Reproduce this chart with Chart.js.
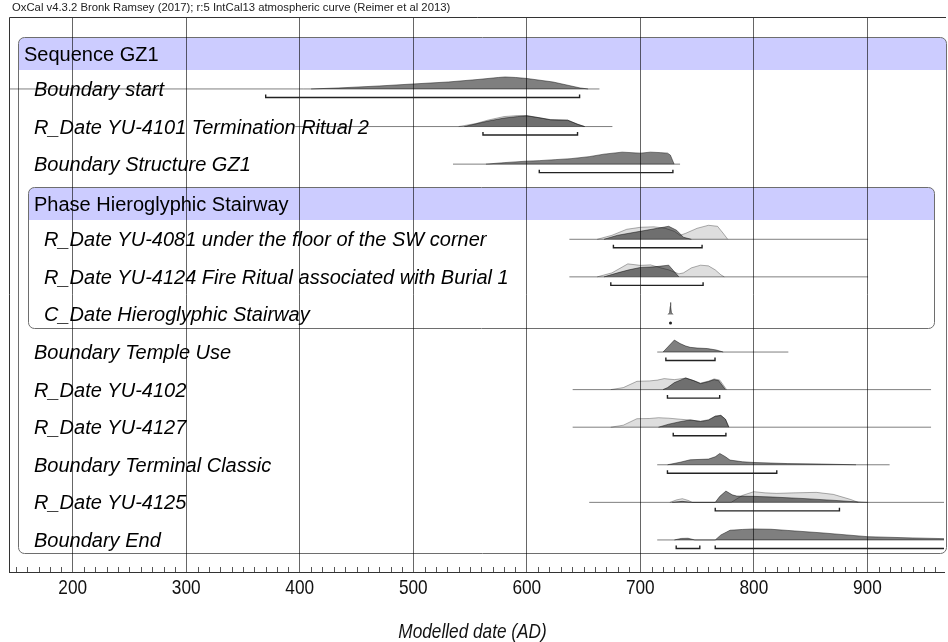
<!DOCTYPE html>
<html>
<head>
<meta charset="utf-8">
<script src="https://cdn.jsdelivr.net/npm/chart.js@4.4.1/dist/chart.umd.min.js"></script>
<style>
  html, body { margin: 0; padding: 0; background: #fff; }
  canvas { display: block; }
</style>
</head>
<body>
<canvas id="oxcal" width="948" height="642"></canvas>
<script>
// row names, top to bottom (row index = position on the y scale)
const rowNames = [
  'Sequence GZ1',
  'Boundary start',
  'R_Date YU-4101 Termination Ritual 2',
  'Boundary Structure GZ1',
  'Phase Hieroglyphic Stairway',
  'R_Date YU-4081 under the floor of the SW corner',
  'R_Date YU-4124 Fire Ritual associated with Burial 1',
  'C_Date Hieroglyphic Stairway',
  'Boundary Temple Use',
  'R_Date YU-4102',
  'R_Date YU-4127',
  'Boundary Terminal Classic',
  'R_Date YU-4125',
  'Boundary End'
];
const rowPos = [1.06, 2, 3, 4, 5.05, 6, 7, 8, 9, 10, 11, 12, 13, 14];
const rowIsHeader = [true, false, false, false, true, false, false, false, false, false, false, false, false, false];

const tickYears = [200, 300, 400, 500, 600, 700, 800, 900];
const axisTitle = 'Modelled date (AD)';
const headerText = 'OxCal v4.3.2 Bronk Ramsey (2017); r:5 IntCal13 atmospheric curve (Reimer et al 2013)';

// Boundary start (posterior)
const startYears = [410, 434, 470, 500, 531, 557, 575, 581, 590, 600, 623, 639, 647, 654];
const startProb  = [0, 1, 3, 5, 7, 9.5, 11.5, 12, 11.5, 10.5, 7, 3, 1, 0];

// R_Date YU-4101
const y4101Years = [540, 555, 566, 580, 592, 600, 610, 621, 636, 645, 651];
const y4101Like  = [0, 3, 6.5, 10, 11, 11, 9, 7, 6.5, 2, 0];
const y4101PostYears = [545, 566, 580, 592, 600, 610, 621, 636, 645, 651];
const y4101Post  = [0, 5.5, 8.5, 10, 10.7, 9, 6.7, 6.3, 2.3, 0];

// Boundary Structure GZ1
const structYears = [564, 580, 600, 611, 625, 639, 655, 668, 684, 700, 709, 718, 724, 726.5, 729.8];
const structProb  = [0, 1.5, 3, 3.5, 4.5, 5.5, 7.5, 10, 12, 11, 12, 11.5, 11, 9, 0];

// R_Date YU-4081
const y4081Years = [662, 675, 688, 700, 712, 722, 730, 735, 740, 750, 760, 768, 773, 777];
const y4081Like  = [0, 4, 10, 12, 12.5, 11, 8, 4, 6, 11, 14, 13, 6, 0];
const y4081PostYears = [668, 680, 700, 715, 725, 732, 738, 745];
const y4081Post  = [0, 4, 8, 11, 13, 9, 2, 0];

// R_Date YU-4124
const y4124Years = [662, 675, 689, 700, 709, 718, 725, 734, 738, 745, 753, 760, 766, 771, 774];
const y4124Like  = [0, 4, 13, 11.5, 12, 9, 7, 3, 4, 9, 11.7, 11, 7, 2, 0];
const y4124PostYears = [668, 680, 690, 700, 712, 720, 725, 734];
const y4124Post  = [0, 4, 7, 9.4, 10, 11, 11.7, 0];

// C_Date Hieroglyphic Stairway
const cDateYears = [724.4, 725.8, 726.3, 726.6, 726.9, 727.4, 728.8];
const cDateProb  = [0, 2, 8, 12, 8, 2, 0];

// Boundary Temple Use
const templeYears = [720, 725, 730, 735, 740, 744, 750, 759, 767, 773];
const templeProb  = [0, 6, 12, 8.5, 6, 4.7, 4, 3.5, 2, 0];

// R_Date YU-4102
const y4102Years = [674, 685, 697, 708, 715, 721, 730, 740, 747, 753, 760, 765, 770, 776];
const y4102Like  = [0, 2, 8.3, 8.7, 9.5, 11, 10, 11.5, 9, 6.5, 8.5, 10.7, 9.5, 0];
const y4102PostYears = [720, 724, 730, 740, 747, 753, 760, 765, 769, 775];
const y4102Post  = [0, 2, 7, 11.7, 9, 6, 8, 10, 9, 0];

// R_Date YU-4127
const y4127Years = [674, 685, 697, 708, 716, 725, 735, 745, 753, 760, 766, 771, 775, 778];
const y4127Like  = [0, 2, 8.5, 8.7, 9.5, 9, 8, 7, 6, 7.5, 11, 12, 8, 0];
const y4127PostYears = [716, 725, 735, 744, 753, 760, 766, 771, 775, 778];
const y4127Post  = [0, 3, 5.5, 7.3, 5.7, 7, 11, 11.7, 8, 0];

// Boundary Terminal Classic
const terminalYears = [724, 735, 744, 760, 766, 770, 775, 779, 790, 800, 830, 861, 890];
const terminalProb  = [0, 2.5, 5, 5.7, 8, 11.3, 8, 4.7, 3, 2.3, 1.2, 0.7, 0];

// R_Date YU-4125
const y4125Years = [726, 732, 737, 742, 746, 780, 790, 800, 810, 820, 835, 855, 870, 885, 892];
const y4125Like  = [0, 2.5, 3.7, 2, 0, 0, 7, 10.7, 9.5, 9, 9.5, 10, 8, 3, 0];
const y4125PostYears = [728, 737, 745, 766, 770, 775.4, 781, 785, 800, 817, 846, 875, 890, 900];
const y4125Post  = [0, 1, 0, 0, 6, 11.3, 7.5, 6.3, 6, 5.3, 3.7, 1.7, 0.5, 0];

// Boundary End
const endYears = [730, 736, 742, 748, 766, 771, 779, 790, 800, 815, 830, 861, 900, 940, 980];
const endProb  = [0, 1.5, 1.7, 0, 0, 5, 9.7, 10.5, 11, 10.7, 9.5, 7, 3.3, 2, 1];

// calculation ranges (thin base lines)
const rangeRow  = [2, 3, 4, 6, 7, 9, 10, 11, 12, 13, 14];
const rangeFrom = [100, 396, 535, 637.5, 637.5, 714.9, 640.4, 640.4, 714.9, 655, 714.9];
const rangeTo   = [664, 675.4, 735, 900.6, 900.6, 830.4, 956.1, 956.1, 919.6, 1000, 1000];

// 95.4% ranges (brackets)
const hpdRow  = [2, 3, 4, 6, 7, 9, 10, 11, 12, 13, 14, 14];
const hpdFrom = [370, 561.4, 611, 676.3, 674, 722.5, 723.9, 729, 723.9, 766, 731.6, 766];
const hpdTo   = [646.5, 644.7, 728.7, 754.4, 755.3, 765.8, 769.9, 775.4, 820.2, 875.4, 752.4, 1000];
const cDateHpd = 726.6;

// ---- layout / style ----
const X_MIN = 143.9, X_MAX = 967.5;
const Y_MIN = 0.085, Y_MAX = 14.853;
const ROW_PX = 37.58;
const HPD_DROP = 8.5 / ROW_PX;
const HPD_TICK = 3 / ROW_PX;
const SANS = '"Liberation Sans", Arial, sans-serif';
const NARROW_X = 0.82;   // horizontal squeeze for the narrow axis font
const rowIndent = [24, 34, 34, 34, 34, 44, 44, 44, 34, 34, 34, 34, 34, 34];
// boxes: [left year, right year, top row, header bottom row, bottom row]
const seqBox = [151.8, 969.5, 0.617, 1.495, 14.35];
const phaseBox = [160.5, 958.8, 4.61, 5.487, 8.36];

const DARK = 'rgba(0,0,0,0.5)';
const DARK_LINE = 'rgba(0,0,0,0.45)';
const LIGHT = 'rgba(0,0,0,0.13)';
const LIGHT_LINE = 'rgba(0,0,0,0.3)';

const up = (row, h) => row - h / ROW_PX;

function areaSet(years, prob, row, fillCol, lineCol, order) {
  return {
    data: years.map((yr, i) => ({ x: yr, y: up(row, prob[i]) })),
    fill: { value: row },
    backgroundColor: fillCol,
    borderColor: lineCol,
    borderWidth: 1,
    pointRadius: 0,
    tension: 0,
    order: order
  };
}

const datasets = [];
// likelihoods
datasets.push(areaSet(y4101Years, y4101Like, 3, LIGHT, LIGHT_LINE, 4));
datasets.push(areaSet(y4081Years, y4081Like, 6, LIGHT, LIGHT_LINE, 4));
datasets.push(areaSet(y4124Years, y4124Like, 7, LIGHT, LIGHT_LINE, 4));
datasets.push(areaSet(y4102Years, y4102Like, 10, LIGHT, LIGHT_LINE, 4));
datasets.push(areaSet(y4127Years, y4127Like, 11, LIGHT, LIGHT_LINE, 4));
datasets.push(areaSet(y4125Years, y4125Like, 13, LIGHT, LIGHT_LINE, 4));
// posteriors
datasets.push(areaSet(startYears, startProb, 2, DARK, DARK_LINE, 3));
datasets.push(areaSet(y4101PostYears, y4101Post, 3, DARK, DARK_LINE, 3));
datasets.push(areaSet(structYears, structProb, 4, DARK, DARK_LINE, 3));
datasets.push(areaSet(y4081PostYears, y4081Post, 6, DARK, DARK_LINE, 3));
datasets.push(areaSet(y4124PostYears, y4124Post, 7, DARK, DARK_LINE, 3));
datasets.push(areaSet(cDateYears, cDateProb, 8, DARK, DARK_LINE, 3));
datasets.push(areaSet(templeYears, templeProb, 9, DARK, DARK_LINE, 3));
datasets.push(areaSet(y4102PostYears, y4102Post, 10, DARK, DARK_LINE, 3));
datasets.push(areaSet(y4127PostYears, y4127Post, 11, DARK, DARK_LINE, 3));
datasets.push(areaSet(terminalYears, terminalProb, 12, DARK, DARK_LINE, 3));
datasets.push(areaSet(y4125PostYears, y4125Post, 13, DARK, DARK_LINE, 3));
datasets.push(areaSet(endYears, endProb, 14, DARK, DARK_LINE, 3));

rangeRow.forEach((row, i) => {
  datasets.push({
    data: [{ x: rangeFrom[i], y: row }, { x: rangeTo[i], y: row }],
    borderColor: 'rgba(0,0,0,0.5)', borderWidth: 1, pointRadius: 0, fill: false, order: 2
  });
});

hpdRow.forEach((row, i) => {
  const yb = row + HPD_DROP;
  datasets.push({
    data: [
      { x: hpdFrom[i], y: yb - HPD_TICK }, { x: hpdFrom[i], y: yb },
      { x: hpdTo[i], y: yb }, { x: hpdTo[i], y: yb - HPD_TICK }
    ],
    borderColor: '#222', borderWidth: 1.4, pointRadius: 0, fill: false, order: 1
  });
});

datasets.push({
  data: [{ x: cDateHpd, y: 8 + HPD_DROP }],
  pointRadius: 1.5, pointBackgroundColor: '#222', pointBorderWidth: 0,
  showLine: false, order: 1
});

function roundBox(ctx, x, y, b) {
  const l = Math.round(x.getPixelForValue(b[0])) + 0.5;
  const r = Math.round(x.getPixelForValue(b[1])) + 0.5;
  const t = Math.round(y.getPixelForValue(b[2])) + 0.5;
  const h = Math.round(y.getPixelForValue(b[3]));
  const bt = Math.round(y.getPixelForValue(b[4])) + 0.5;
  ctx.beginPath();
  ctx.roundRect(l, t, r - l, bt - t, 6);
  ctx.fillStyle = '#fff';
  ctx.fill();
  ctx.save();
  ctx.clip();
  ctx.fillStyle = '#ccccff';
  ctx.fillRect(l, t, r - l, h - t);
  ctx.restore();
  ctx.strokeStyle = '#6e6e6e';
  ctx.lineWidth = 1;
  ctx.stroke();
}

// text squeezed horizontally, centred on cx
function narrowText(ctx, text, cx, baseY) {
  ctx.save();
  ctx.translate(cx, baseY);
  ctx.scale(NARROW_X, 1);
  ctx.textAlign = 'center';
  ctx.textBaseline = 'alphabetic';
  ctx.fillText(text, 0, 0);
  ctx.restore();
}

const oxcalFrame = {
  id: 'oxcalFrame',
  beforeDraw(chart) {
    const { ctx, scales: { x, y } } = chart;
    ctx.save();
    roundBox(ctx, x, y, seqBox);
    roundBox(ctx, x, y, phaseBox);
    ctx.restore();
  },
  afterDatasetsDraw(chart) {
    const { ctx, scales: { y } } = chart;
    ctx.save();
    ctx.fillStyle = '#000';
    ctx.textBaseline = 'alphabetic';
    rowNames.forEach((name, i) => {
      ctx.font = (rowIsHeader[i] ? '' : 'italic ') + '20px ' + SANS;
      ctx.fillText(name, rowIndent[i], y.getPixelForValue(rowPos[i]) + 7);
    });
    ctx.restore();
  },
  afterDraw(chart) {
    const { ctx, chartArea: a, scales: { x } } = chart;
    const bottom = Math.round(a.bottom);
    ctx.save();
    // frame top and left
    ctx.strokeStyle = '#333';
    ctx.lineWidth = 1;
    ctx.beginPath();
    ctx.moveTo(Math.round(a.left) + 0.5, bottom);
    ctx.lineTo(Math.round(a.left) + 0.5, Math.round(a.top) + 0.5);
    ctx.lineTo(a.right + 2, Math.round(a.top) + 0.5);
    ctx.stroke();
    // minor ticks every 10 years
    ctx.strokeStyle = '#555';
    ctx.beginPath();
    for (let v = 150; v <= 960; v += 10) {
      if (v % 100 === 0) continue;
      const px = Math.round(x.getPixelForValue(v)) + 0.5;
      ctx.moveTo(px, bottom);
      ctx.lineTo(px, bottom - 5);
    }
    ctx.stroke();
    // tick labels and axis title
    ctx.fillStyle = '#111';
    ctx.font = '21px ' + SANS;
    tickYears.forEach(v => narrowText(ctx, String(v), x.getPixelForValue(v), bottom + 22));
    ctx.font = 'italic 21px ' + SANS;
    narrowText(ctx, axisTitle, (a.left + a.right) / 2 - 4, bottom + 66);
    // header text
    ctx.fillStyle = '#222';
    ctx.font = '11.3px ' + SANS;
    ctx.textAlign = 'left';
    ctx.textBaseline = 'alphabetic';
    ctx.fillText(headerText, 12, 11);
    ctx.restore();
  }
};

new Chart(document.getElementById('oxcal'), {
  type: 'line',
  data: { datasets: datasets },
  options: {
    responsive: false,
    animation: false,
    devicePixelRatio: 1,
    layout: { padding: { left: 9, top: 17, right: 0, bottom: 0 } },
    plugins: { legend: { display: false }, tooltip: { enabled: false } },
    elements: { line: { tension: 0 } },
    scales: {
      x: {
        type: 'linear',
        min: X_MIN,
        max: X_MAX,
        afterBuildTicks: s => { s.ticks = tickYears.map(v => ({ value: v })); },
        afterFit: s => { s.height = 70; },
        grid: { color: 'rgba(0,0,0,0.6)', lineWidth: 1, drawTicks: false },
        border: { color: '#333', width: 1 },
        ticks: { display: false },
        title: { display: false }
      },
      y: { type: 'linear', display: false, reverse: true, min: Y_MIN, max: Y_MAX }
    }
  },
  plugins: [oxcalFrame]
});
</script>
</body>
</html>
